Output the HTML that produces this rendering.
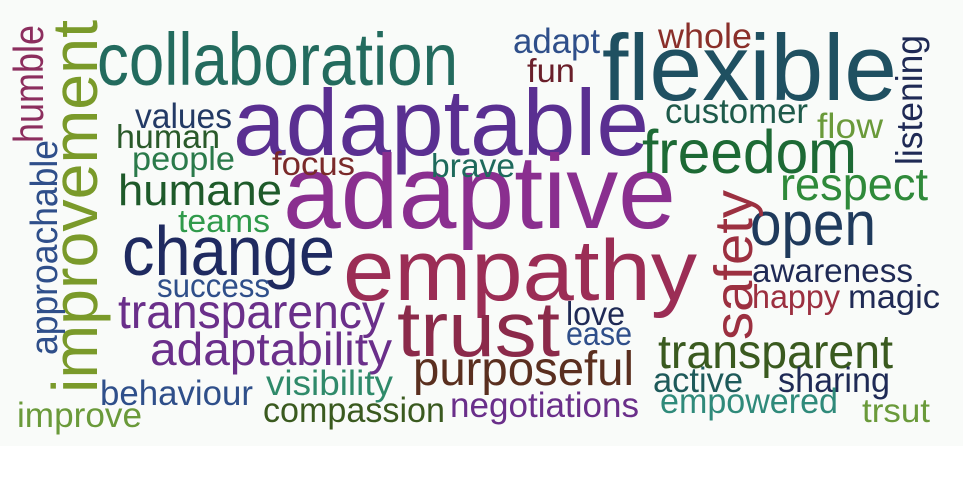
<!DOCTYPE html>
<html><head><meta charset="utf-8"><style>
html,body{margin:0;padding:0;background:#fff}
svg{display:block}
text{font-family:"Liberation Sans",sans-serif}
</style></head><body>
<svg width="963" height="480" viewBox="0 0 963 480" xmlns="http://www.w3.org/2000/svg">
<rect x="0" y="0" width="963" height="446" fill="#f9fbf9"/>
<g>
<text x="97" y="85" font-size="74" fill="#236b5e" textLength="361" lengthAdjust="spacingAndGlyphs">collaboration</text>
<text x="233" y="155" font-size="94" fill="#5a2f91" textLength="416" lengthAdjust="spacingAndGlyphs">adaptable</text>
<text x="283" y="228" font-size="105" fill="#8a2f8f" textLength="393" lengthAdjust="spacingAndGlyphs">adaptive</text>
<text x="343" y="300" font-size="86" fill="#9b2d55" textLength="354" lengthAdjust="spacingAndGlyphs">empathy</text>
<text x="602" y="100" font-size="94" fill="#1f5061" textLength="295" lengthAdjust="spacingAndGlyphs">flexible</text>
<text x="397" y="356" font-size="78" fill="#8b2a4a" textLength="163" lengthAdjust="spacingAndGlyphs">trust</text>
<text x="122" y="275" font-size="70" fill="#1f2a60" textLength="213" lengthAdjust="spacingAndGlyphs">change</text>
<text x="642" y="173" font-size="61" fill="#1d6a35" textLength="215" lengthAdjust="spacingAndGlyphs">freedom</text>
<text x="750" y="245" font-size="62" fill="#1f3a5c" textLength="126" lengthAdjust="spacingAndGlyphs">open</text>
<text transform="translate(97,393) rotate(-90)" font-size="64" fill="#7a9a2a" textLength="373" lengthAdjust="spacingAndGlyphs">improvement</text>
<text transform="translate(43,143) rotate(-90)" font-size="42" fill="#8c2e5e" textLength="118" lengthAdjust="spacingAndGlyphs">humble</text>
<text transform="translate(57,355) rotate(-90)" font-size="38" fill="#2f4f8a" textLength="215" lengthAdjust="spacingAndGlyphs">approachable</text>
<text transform="translate(922,165) rotate(-90)" font-size="37" fill="#1f2a55" textLength="130" lengthAdjust="spacingAndGlyphs">listening</text>
<text transform="translate(752,340) rotate(-90)" font-size="54" fill="#9c3040" textLength="150" lengthAdjust="spacingAndGlyphs">safety</text>
<text x="135" y="128" font-size="35" fill="#233a65" textLength="97" lengthAdjust="spacingAndGlyphs">values</text>
<text x="116" y="148" font-size="33" fill="#2a5a2a" textLength="104" lengthAdjust="spacingAndGlyphs">human</text>
<text x="132" y="170" font-size="33" fill="#2a7a4a" textLength="103" lengthAdjust="spacingAndGlyphs">people</text>
<text x="272" y="175" font-size="33" fill="#7a2a2a" textLength="83" lengthAdjust="spacingAndGlyphs">focus</text>
<text x="431" y="177" font-size="33" fill="#1e6a5c" textLength="84" lengthAdjust="spacingAndGlyphs">brave</text>
<text x="118" y="205" font-size="44" fill="#1e5a2a" textLength="164" lengthAdjust="spacingAndGlyphs">humane</text>
<text x="178" y="232" font-size="32" fill="#2f9a4a" textLength="92" lengthAdjust="spacingAndGlyphs">teams</text>
<text x="513" y="53" font-size="35" fill="#2f4f8a" textLength="87" lengthAdjust="spacingAndGlyphs">adapt</text>
<text x="527" y="82" font-size="33" fill="#6a1f2a" textLength="48" lengthAdjust="spacingAndGlyphs">fun</text>
<text x="658" y="48" font-size="35" fill="#8a2f2a" textLength="94" lengthAdjust="spacingAndGlyphs">whole</text>
<text x="665" y="123" font-size="35" fill="#1e5a4a" textLength="143" lengthAdjust="spacingAndGlyphs">customer</text>
<text x="817" y="138" font-size="35" fill="#6a9a3a" textLength="66" lengthAdjust="spacingAndGlyphs">flow</text>
<text x="780" y="200" font-size="46" fill="#2f8a3a" textLength="148" lengthAdjust="spacingAndGlyphs">respect</text>
<text x="752" y="282" font-size="33" fill="#1f2a55" textLength="161" lengthAdjust="spacingAndGlyphs">awareness</text>
<text x="752" y="308" font-size="33" fill="#9c3040" textLength="88" lengthAdjust="spacingAndGlyphs">happy</text>
<text x="848" y="308" font-size="33" fill="#1f2a55" textLength="92" lengthAdjust="spacingAndGlyphs">magic</text>
<text x="157" y="297" font-size="33" fill="#2f4f8a" textLength="113" lengthAdjust="spacingAndGlyphs">success</text>
<text x="118" y="328" font-size="48" fill="#6a2f8a" textLength="267" lengthAdjust="spacingAndGlyphs">transparency</text>
<text x="150" y="365" font-size="46" fill="#6a2f8a" textLength="242" lengthAdjust="spacingAndGlyphs">adaptability</text>
<text x="566" y="325" font-size="33" fill="#1f2a55" textLength="59" lengthAdjust="spacingAndGlyphs">love</text>
<text x="566" y="345" font-size="33" fill="#2f4f8a" textLength="66" lengthAdjust="spacingAndGlyphs">ease</text>
<text x="658" y="368" font-size="48" fill="#3a5a1f" textLength="235" lengthAdjust="spacingAndGlyphs">transparent</text>
<text x="413" y="385" font-size="48" fill="#5a2f1f" textLength="221" lengthAdjust="spacingAndGlyphs">purposeful</text>
<text x="653" y="392" font-size="35" fill="#1e5a5a" textLength="90" lengthAdjust="spacingAndGlyphs">active</text>
<text x="778" y="392" font-size="35" fill="#1f2a55" textLength="112" lengthAdjust="spacingAndGlyphs">sharing</text>
<text x="100" y="405" font-size="35" fill="#2f4f8a" textLength="153" lengthAdjust="spacingAndGlyphs">behaviour</text>
<text x="266" y="395" font-size="35" fill="#2f8a6a" textLength="127" lengthAdjust="spacingAndGlyphs">visibility</text>
<text x="263" y="422" font-size="35" fill="#3a5a1f" textLength="182" lengthAdjust="spacingAndGlyphs">compassion</text>
<text x="450" y="417" font-size="35" fill="#6a2f8a" textLength="189" lengthAdjust="spacingAndGlyphs">negotiations</text>
<text x="660" y="413" font-size="35" fill="#2f8a7a" textLength="178" lengthAdjust="spacingAndGlyphs">empowered</text>
<text x="862" y="422" font-size="33" fill="#6a9a3a" textLength="68" lengthAdjust="spacingAndGlyphs">trsut</text>
<text x="17" y="427" font-size="35" fill="#6a9a3a" textLength="125" lengthAdjust="spacingAndGlyphs">improve</text>
</g>
</svg>
</body></html>
